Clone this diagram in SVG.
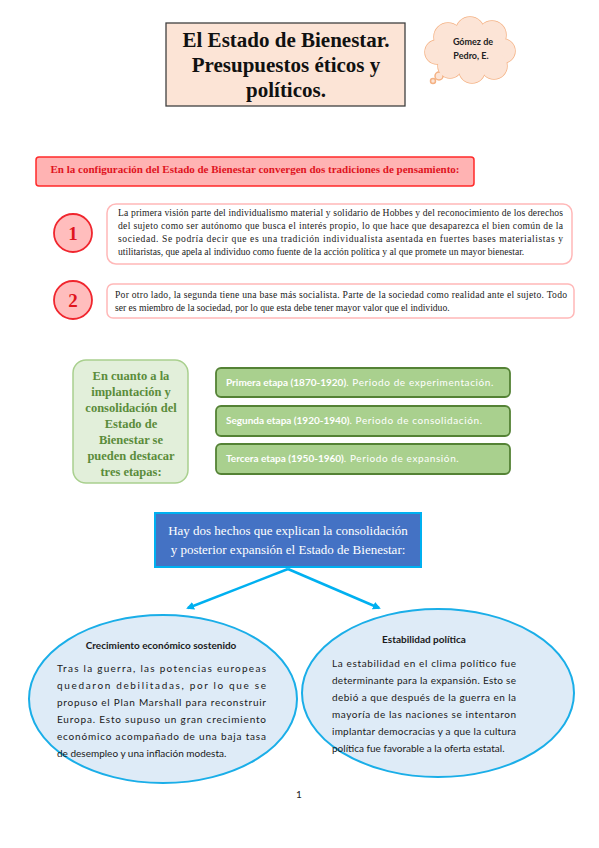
<svg xmlns="http://www.w3.org/2000/svg" width="599" height="848" viewBox="0 0 599 848">
<defs>
<marker id="ah" markerWidth="8" markerHeight="8" refX="6" refY="4" orient="auto" markerUnits="userSpaceOnUse">
<path d="M0,0 L8,4 L0,8 z" fill="#00b0f0"/>
</marker>
</defs>
<style>
.serif{font-family:"Liberation Serif","Times New Roman",serif}
.cal{font-family:Lato,"Liberation Sans",sans-serif}
.title{font-size:21px;font-weight:bold;fill:#111;text-anchor:middle}
.para{font-size:9.6px;fill:#222}
.num{font-size:19px;font-weight:bold;fill:#e0141e;text-anchor:middle}
.numc{fill:#ffbdbd;stroke:#f0262e;stroke-width:1.8}
.pbox{fill:#fff;stroke:#ffb8b8;stroke-width:1.5}
.gbar{fill:#a9d08e;stroke:#548235;stroke-width:1.8}
.gtxt{font-size:10px;fill:#fff}
.gl{font-size:12.5px;font-weight:bold;fill:#5b8c3b;text-anchor:middle}
.ell{fill:#deebf7;stroke:#1aaee8;stroke-width:2}
.etxt{font-size:10px;fill:#1a1a1a}
.eh{font-size:10px;font-weight:bold;fill:#1a1a1a;text-anchor:middle}
.cl{fill:#fce4d6;stroke:#f4b183;stroke-width:1.5}
.clf{fill:#fce4d6}
</style>
<rect width="599" height="848" fill="#fff"/>

<g id="title">
<rect x="166" y="23" width="239" height="83" fill="#fce4d6" stroke="#404040" stroke-width="1.3"/>
<text class="serif title" x="286" y="47">El Estado de Bienestar.</text>
<text class="serif title" x="286" y="72">Presupuestos éticos y</text>
<text class="serif title" x="286" y="97">políticos.</text>
</g>

<g id="author">
<g class="cl">
<circle cx="448" cy="37" r="14"/><circle cx="470" cy="31" r="14"/><circle cx="492" cy="35" r="14"/>
<circle cx="503" cy="51" r="12"/><circle cx="494" cy="66" r="13"/><circle cx="472" cy="70" r="13"/>
<circle cx="450" cy="66" r="12"/><circle cx="437" cy="52" r="12"/>
<circle cx="439" cy="76" r="4"/><circle cx="433" cy="81" r="2.5"/>
</g>
<g class="clf">
<circle cx="448" cy="37" r="14"/><circle cx="470" cy="31" r="14"/><circle cx="492" cy="35" r="14"/>
<circle cx="503" cy="51" r="12"/><circle cx="494" cy="66" r="13"/><circle cx="472" cy="70" r="13"/>
<circle cx="450" cy="66" r="12"/><circle cx="437" cy="52" r="12"/>
<ellipse cx="470" cy="51" rx="30" ry="20"/>
</g>
<text class="cal" x="473" y="45" font-size="9" font-weight="bold" fill="#222" text-anchor="middle">Gómez de</text>
<text class="cal" x="471" y="59" font-size="9" font-weight="bold" fill="#222" text-anchor="middle">Pedro, E.</text>
</g>

<g id="banner">
<rect x="36" y="157" width="438" height="29" rx="3" fill="#ffb3b3" stroke="#ff2a2a" stroke-width="1.5"/>
<text class="serif" x="255" y="173" font-size="11" font-weight="bold" fill="#e0141e" text-anchor="middle">En la configuración del Estado de Bienestar convergen dos tradiciones de pensamiento:</text>
</g>

<g id="n1">
<circle class="numc" cx="73" cy="233" r="19"/>
<text class="serif num" x="73" y="240">1</text>
</g>
<g id="p1">
<rect class="pbox" x="107" y="204" width="465" height="60" rx="9"/>
<text class="serif para" x="118" y="216" textLength="445" lengthAdjust="spacing">La primera visión parte del individualismo material y solidario de Hobbes y del reconocimiento de los derechos</text>
<text class="serif para" x="118" y="229" textLength="445" lengthAdjust="spacing">del sujeto como ser autónomo que busca el interés propio, lo que hace que desaparezca el bien común de la</text>
<text class="serif para" x="118" y="242" textLength="445" lengthAdjust="spacing">sociedad. Se podría decir que es una tradición individualista asentada en fuertes bases materialistas y</text>
<text class="serif para" x="118" y="255">utilitaristas, que apela al individuo como fuente de la acción política y al que promete un mayor bienestar.</text>
</g>

<g id="n2">
<circle class="numc" cx="73" cy="300" r="19"/>
<text class="serif num" x="73" y="307">2</text>
</g>
<g id="p2">
<rect class="pbox" x="107" y="284" width="467" height="34" rx="6"/>
<text class="serif para" x="115" y="298" textLength="452" lengthAdjust="spacing">Por otro lado, la segunda tiene una base más socialista. Parte de la sociedad como realidad ante el sujeto. Todo</text>
<text class="serif para" x="115" y="311">ser es miembro de la sociedad, por lo que esta debe tener mayor valor que el individuo.</text>
</g>

<g id="etapas">
<rect x="73" y="360" width="115" height="123" rx="13" fill="#e2efda" stroke="#a9d08e" stroke-width="1.5"/>
<text class="serif gl" x="131" y="380">En cuanto a la</text>
<text class="serif gl" x="131" y="396">implantación y</text>
<text class="serif gl" x="131" y="412">consolidación del</text>
<text class="serif gl" x="131" y="428">Estado de</text>
<text class="serif gl" x="131" y="444">Bienestar se</text>
<text class="serif gl" x="131" y="460">pueden destacar</text>
<text class="serif gl" x="131" y="476">tres etapas:</text>
</g>

<g id="e1">
<rect class="gbar" x="216" y="368" width="294" height="29" rx="5"/>
<text class="cal gtxt" x="226" y="386"><tspan font-weight="bold">Primera etapa (1870-1920)</tspan><tspan letter-spacing="0.6">. Periodo de experimentación.</tspan></text>
</g>
<g id="e2">
<rect class="gbar" x="216" y="406" width="294" height="30" rx="5"/>
<text class="cal gtxt" x="226" y="424"><tspan font-weight="bold">Segunda etapa (1920-1940)</tspan><tspan letter-spacing="0.6">. Periodo de consolidación.</tspan></text>
</g>
<g id="e3">
<rect class="gbar" x="216" y="444" width="294" height="30" rx="5"/>
<text class="cal gtxt" x="226" y="462"><tspan font-weight="bold">Tercera etapa (1950-1960)</tspan><tspan letter-spacing="0.6">. Periodo de expansión.</tspan></text>
</g>

<g id="hechos">
<rect x="155" y="513" width="266" height="54" fill="#4472c4" stroke="#00b0f0" stroke-width="2"/>
<text class="serif" x="288" y="535" font-size="13" fill="#fff" text-anchor="middle">Hay dos hechos que explican la consolidación</text>
<text class="serif" x="288" y="554" font-size="13" fill="#fff" text-anchor="middle">y posterior expansión el Estado de Bienestar:</text>
</g>

<g id="connectors" stroke="#00b0f0" stroke-width="2.5" fill="none">
<line x1="288" y1="569" x2="188" y2="608" marker-end="url(#ah)"/>
<line x1="288" y1="569" x2="379" y2="608" marker-end="url(#ah)"/>
</g>

<g id="crecimiento">
<ellipse class="ell" cx="163" cy="699" rx="134" ry="84"/>
<text class="cal eh" x="161" y="649">Crecimiento económico sostenido</text>
<text class="cal etxt" x="57" y="672" textLength="209" lengthAdjust="spacing">Tras la guerra, las potencias europeas</text>
<text class="cal etxt" x="57" y="689" textLength="209" lengthAdjust="spacing">quedaron debilitadas, por lo que se</text>
<text class="cal etxt" x="57" y="706" textLength="209" lengthAdjust="spacing">propuso el Plan Marshall para reconstruir</text>
<text class="cal etxt" x="57" y="723" textLength="209" lengthAdjust="spacing">Europa. Esto supuso un gran crecimiento</text>
<text class="cal etxt" x="57" y="740" textLength="209" lengthAdjust="spacing">económico acompañado de una baja tasa</text>
<text class="cal etxt" x="57" y="757">de desempleo y una inflación modesta.</text>
</g>

<g id="estabilidad">
<ellipse class="ell" cx="438" cy="693" rx="136" ry="84"/>
<text class="cal eh" x="424" y="643">Estabilidad política</text>
<text class="cal etxt" x="332" y="667" textLength="184" lengthAdjust="spacing">La estabilidad en el clima político fue</text>
<text class="cal etxt" x="332" y="684" textLength="184" lengthAdjust="spacing">determinante para la expansión. Esto se</text>
<text class="cal etxt" x="332" y="701" textLength="184" lengthAdjust="spacing">debió a que después de la guerra en la</text>
<text class="cal etxt" x="332" y="718" textLength="184" lengthAdjust="spacing">mayoría de las naciones se intentaron</text>
<text class="cal etxt" x="332" y="735" textLength="184" lengthAdjust="spacing">implantar democracias y a que la cultura</text>
<text class="cal etxt" x="332" y="752">política fue favorable a la oferta estatal.</text>
</g>

<text class="cal" x="299" y="798" font-size="10" fill="#222" text-anchor="middle">1</text>
</svg>
